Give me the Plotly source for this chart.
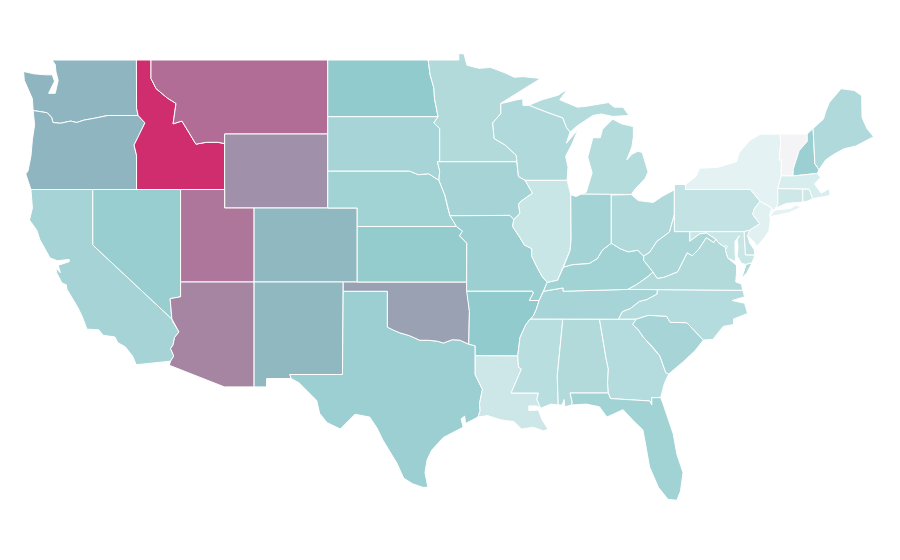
import plotly.graph_objects as go
from plotly.colors import sample_colorscale

# Approximate state outlines as (lon, lat); a None splits off a separate part.
WA = [(-117.03,49),(-122.76,49),(-122.55,48.75),(-122.5,48.35),(-122.35,47.9),(-122.55,47.2),(-123.0,47.2),(-122.6,47.85),(-122.75,48.2),(-123.2,48.2),(-124.0,48.25),(-124.7,48.38),(-124.65,47.9),(-124.3,47.3),(-124.1,46.9),(-124.05,46.27),(-123.4,46.2),(-123.1,46.15),(-122.8,45.9),(-122.7,45.62),(-122.2,45.58),(-121.5,45.7),(-121.1,45.62),(-120.6,45.75),(-119.9,45.85),(-119.3,45.93),(-118.98,46.0),(-116.92,46.0),(-117.03,46.4)]
OR = [(-124.05,46.27),(-123.4,46.2),(-123.1,46.15),(-122.8,45.9),(-122.7,45.62),(-122.2,45.58),(-121.5,45.7),(-121.1,45.62),(-120.6,45.75),(-119.9,45.85),(-119.3,45.93),(-118.98,46.0),(-116.92,46.0),(-116.46,45.6),(-116.85,44.95),(-117.2,44.4),(-117.03,43.85),(-117.03,42),(-124.2,42),(-124.55,42.84),(-124.4,43.0),(-124.2,43.8),(-124.1,44.7),(-123.95,45.5)]
CA = [(-124.2,42),(-120,42),(-120,39),(-114.63,35.0),(-114.57,34.85),(-114.15,34.3),(-114.45,34.0),(-114.55,33.6),(-114.72,33.4),(-114.5,33.0),(-114.72,32.72),(-117.05,32.53),(-117.3,33.0),(-117.8,33.5),(-118.3,33.72),(-118.5,34.03),(-119.3,34.12),(-119.6,34.42),(-120.4,34.45),(-120.7,35.1),(-121.0,35.6),(-121.75,36.6),(-121.8,36.85),(-122.1,36.95),(-122.45,37.5),(-122.5,37.75),(-122.2,37.5),(-122.35,37.9),(-121.6,38.1),(-121.6,38.22),(-122.4,38.15),(-122.9,38.3),(-123.6,39.3),(-123.8,39.8),(-124.3,40.35),(-124.1,41.0)]
NV = [(-120,42),(-114.04,42),(-114.04,36.2),(-114.75,36.1),(-114.63,35.0),(-120,39)]
ID = [(-117.04,49),(-116.05,49),(-116.05,48),(-115.7,47.45),(-114.95,46.95),(-114.35,46.65),(-114.55,45.55),(-113.95,45.7),(-113.45,45.05),(-113.0,44.45),(-112.3,44.55),(-111.5,44.55),(-111.05,44.48),(-111.05,42),(-117.03,42),(-117.03,43.85),(-117.2,44.4),(-116.85,44.95),(-116.46,45.6),(-116.92,46.0),(-117.03,46.4)]
MT = [(-116.05,49),(-104.05,49),(-104.05,45),(-111.05,45),(-111.05,44.48),(-111.5,44.55),(-112.3,44.55),(-113.0,44.45),(-113.45,45.05),(-113.95,45.7),(-114.55,45.55),(-114.35,46.65),(-114.95,46.95),(-115.7,47.45),(-116.05,48)]
WY = [(-111.05,45),(-104.05,45),(-104.05,41),(-111.05,41)]
UT = [(-114.04,42),(-111.05,42),(-111.05,41),(-109.05,41),(-109.05,37),(-114.04,37)]
CO = [(-109.05,41),(-102.05,41),(-102.05,37),(-109.05,37)]
AZ = [(-114.04,37),(-109.05,37),(-109.05,31.33),(-111.07,31.33),(-114.81,32.5),(-114.72,32.72),(-114.5,33.0),(-114.72,33.4),(-114.55,33.6),(-114.45,34.0),(-114.15,34.3),(-114.57,34.85),(-114.63,35.0),(-114.75,36.1),(-114.04,36.2)]
NM = [(-109.05,37),(-103.0,37),(-103.05,32),(-106.62,32),(-106.53,31.78),(-108.2,31.78),(-108.2,31.33),(-109.05,31.33)]
TX = [(-103.0,36.5),(-100,36.5),(-100,34.56),(-99.6,34.4),(-99.15,34.25),(-98.5,34.1),(-97.8,33.85),(-97.2,33.85),(-96.6,33.8),(-96.2,33.7),(-95.6,33.88),(-95.1,33.86),(-94.48,33.64),(-94.04,33.55),(-94.04,33.02),(-94.04,31.99),(-93.55,31.2),(-93.75,30.4),(-93.7,30.05),(-93.85,29.7),(-94.7,29.35),(-94.75,29.75),(-95.0,29.6),(-94.85,29.15),(-96.2,28.6),(-97.0,27.9),(-97.3,27.4),(-97.45,26.7),(-97.25,25.9),(-97.6,25.9),(-98.3,26.1),(-98.9,26.4),(-99.35,27.2),(-100.3,28.45),(-100.7,29.1),(-101.2,29.7),(-102.2,29.85),(-102.75,29.4),(-103.2,29.05),(-104.1,29.4),(-104.6,29.9),(-104.8,30.6),(-106.0,31.55),(-106.53,31.78),(-106.62,32),(-103.05,32)]
OK = [(-103,37),(-94.62,37),(-94.43,35.4),(-94.48,33.64),(-95.1,33.86),(-95.6,33.88),(-96.2,33.7),(-96.6,33.8),(-97.2,33.85),(-97.8,33.85),(-98.5,34.1),(-99.15,34.25),(-99.6,34.4),(-100,34.56),(-100,36.5),(-103,36.5)]
KS = [(-102.05,40),(-95.31,40),(-94.9,39.75),(-95.1,39.5),(-94.61,39.1),(-94.62,37),(-102.05,37)]
NE = [(-104.05,43),(-98.5,43),(-97.9,42.8),(-97.2,42.85),(-96.5,42.5),(-96.1,41.7),(-95.9,41.0),(-95.75,40.58),(-95.31,40),(-102.05,40),(-102.05,41),(-104.05,41)]
SD = [(-104.05,45.94),(-96.56,45.94),(-96.85,45.6),(-96.45,45.3),(-96.45,43.5),(-96.6,43.5),(-96.45,43.0),(-96.5,42.5),(-97.2,42.85),(-97.9,42.8),(-98.5,43),(-104.05,43)]
ND = [(-104.05,49),(-97.23,49),(-97.1,48.2),(-96.85,47.5),(-96.8,46.9),(-96.56,45.94),(-104.05,45.94)]
MN = [(-97.23,49),(-95.15,49),(-95.15,49.35),(-94.8,49.33),(-94.6,48.72),(-93.8,48.55),(-93.0,48.6),(-92.0,48.3),(-91.4,48.07),(-90.75,48.1),(-89.6,48.0),(-90.8,47.4),(-92.1,46.75),(-92.3,46.66),(-92.3,46.1),(-92.85,45.6),(-92.75,44.75),(-92.0,44.4),(-91.25,43.85),(-91.22,43.5),(-96.45,43.5),(-96.45,45.3),(-96.85,45.6),(-96.56,45.94),(-96.8,46.9),(-96.85,47.5),(-97.1,48.2)]
IA = [(-96.45,43.5),(-91.22,43.5),(-91.1,42.7),(-90.65,42.5),(-90.15,41.8),(-90.95,41.35),(-91.1,41.2),(-91.0,40.7),(-91.42,40.38),(-91.7,40.6),(-95.75,40.58),(-95.9,41.0),(-96.1,41.7),(-96.5,42.5),(-96.45,43.0),(-96.6,43.5)]
MO = [(-95.75,40.58),(-91.7,40.6),(-91.42,40.38),(-91.5,40.0),(-91.0,39.4),(-90.7,39.0),(-90.2,38.8),(-90.2,38.4),(-89.9,37.9),(-89.5,37.3),(-89.15,36.98),(-89.4,36.5),(-89.7,36.0),(-90.37,36.0),(-90.1,36.4),(-90.15,36.5),(-94.62,36.5),(-94.62,37),(-94.61,39.1),(-95.1,39.5),(-94.9,39.75),(-95.31,40)]
AR = [(-94.62,36.5),(-90.15,36.5),(-90.1,36.4),(-90.37,36.0),(-89.7,36.0),(-89.9,35.5),(-90.1,35.15),(-90.3,35.0),(-90.6,34.7),(-91.0,34.0),(-91.15,33.0),(-94.04,33.02),(-94.04,33.55),(-94.48,33.64),(-94.43,35.4)]
LA = [(-94.04,33.02),(-91.15,33.0),(-91.1,32.4),(-90.9,32.3),(-91.6,31.0),(-89.75,31.0),(-89.85,30.65),(-89.6,30.18),(-89.85,30.3),(-90.4,30.3),(-90.4,30.05),(-89.75,30.08),(-89.5,29.55),(-89.1,29.05),(-89.4,28.95),(-90.1,29.15),(-90.9,29.05),(-91.4,29.45),(-91.85,29.5),(-92.3,29.55),(-93.2,29.78),(-93.85,29.7),(-93.7,30.05),(-93.75,30.4),(-93.55,31.2),(-94.04,31.99)]
MS = [(-90.3,35.0),(-88.2,35),(-88.1,34.9),(-88.47,31.9),(-88.4,30.35),(-88.9,30.4),(-89.6,30.18),(-89.85,30.65),(-89.75,31.0),(-91.6,31.0),(-90.9,32.3),(-91.1,32.4),(-91.15,33.0),(-91.0,34.0),(-90.6,34.7)]
AL = [(-88.2,35),(-85.6,34.98),(-85.15,32.85),(-85.0,32.3),(-85.05,31.55),(-85.0,31.0),(-87.6,31.0),(-87.45,30.5),(-87.5,30.35),(-87.95,30.25),(-88.0,30.65),(-88.15,30.35),(-88.4,30.35),(-88.47,31.9),(-88.1,34.9)]
GA = [(-85.6,34.98),(-83.1,35),(-83.35,34.7),(-83.0,34.45),(-82.6,34.0),(-81.9,33.4),(-81.5,33.0),(-81.1,32.1),(-80.9,32.03),(-81.2,31.5),(-81.45,30.75),(-82.05,30.75),(-82.05,30.36),(-82.2,30.57),(-84.86,30.7),(-85.0,31.0),(-85.05,31.55),(-85.0,32.3),(-85.15,32.85)]
FL = [(-87.6,31.0),(-85.0,31.0),(-84.86,30.7),(-82.2,30.57),(-82.05,30.36),(-82.05,30.75),(-81.45,30.75),(-81.3,30.45),(-80.6,28.8),(-80.35,27.7),(-79.93,26.7),(-80.1,25.7),(-80.35,25.2),(-80.95,25.25),(-81.6,25.9),(-82.2,27.0),(-82.4,27.9),(-82.65,29.0),(-83.3,29.5),(-84.0,30.1),(-85.1,29.7),(-85.6,30.25),(-86.5,30.4),(-87.5,30.35),(-87.45,30.5)]
SC = [(-83.35,34.7),(-83.1,35),(-82.3,35.2),(-81.05,35.15),(-80.8,34.82),(-79.67,34.8),(-78.55,33.86),(-79.1,33.3),(-79.9,32.7),(-80.5,32.3),(-80.9,32.03),(-81.1,32.1),(-81.5,33.0),(-81.9,33.4),(-82.6,34.0),(-83.0,34.45)]
NC = [(-81.68,36.59),(-75.87,36.55),(-75.75,36.2),(-76.6,36.0),(-75.75,35.85),(-75.55,35.3),(-76.5,35.0),(-76.5,34.7),(-77.2,34.6),(-77.9,33.9),(-78.55,33.86),(-79.67,34.8),(-80.8,34.82),(-81.05,35.15),(-82.3,35.2),(-83.1,35),(-84.32,34.99),(-84.05,35.4),(-83.5,35.57),(-82.9,35.95),(-82.4,36.05),(-81.7,36.35)]
TN = [(-90.3,35.0),(-88.2,35),(-85.6,34.98),(-84.32,34.99),(-84.05,35.4),(-83.5,35.57),(-82.9,35.95),(-82.4,36.05),(-81.7,36.35),(-81.68,36.59),(-83.68,36.6),(-88.07,36.5),(-88.07,36.68),(-89.4,36.5),(-89.7,36.0),(-89.9,35.5),(-90.1,35.15)]
KY = [(-89.4,36.5),(-88.07,36.68),(-88.07,36.5),(-83.68,36.6),(-83.1,36.85),(-82.3,37.3),(-81.97,37.54),(-82.6,38.17),(-82.6,38.4),(-83.0,38.72),(-83.65,38.63),(-84.2,38.8),(-84.8,39.1),(-85.4,38.73),(-85.75,38.27),(-86.3,38.0),(-86.8,37.98),(-87.5,37.93),(-88.05,37.8),(-88.45,37.1),(-89.15,36.98)]
IL = [(-90.65,42.5),(-87.8,42.5),(-87.55,41.72),(-87.53,39.3),(-87.6,38.7),(-88.05,37.8),(-88.45,37.1),(-89.15,36.98),(-89.5,37.3),(-89.9,37.9),(-90.2,38.4),(-90.2,38.8),(-90.7,39.0),(-91.0,39.4),(-91.5,40.0),(-91.42,40.38),(-91.0,40.7),(-91.1,41.2),(-90.95,41.35),(-90.15,41.8)]
IN = [(-87.55,41.72),(-87.2,41.62),(-86.82,41.76),(-84.8,41.76),(-84.8,39.1),(-85.4,38.73),(-85.75,38.27),(-86.3,38.0),(-86.8,37.98),(-87.5,37.93),(-88.05,37.8),(-87.6,38.7),(-87.53,39.3)]
OH = [(-84.8,41.7),(-83.45,41.73),(-82.97,41.4),(-81.95,41.3),(-81.3,41.65),(-80.52,41.98),(-80.52,40.64),(-80.85,39.7),(-81.7,39.2),(-82.2,38.6),(-82.6,38.4),(-83.0,38.72),(-83.65,38.63),(-84.2,38.8),(-84.8,39.1)]
MI = [(-86.82,41.76),(-84.8,41.76),(-83.45,41.73),(-83.15,42.05),(-82.5,42.6),(-82.3,42.95),(-82.7,44.0),(-83.0,44.07),(-83.4,43.9),(-83.75,43.6),(-83.4,44.3),(-83.3,44.85),(-83.3,45.4),(-84.1,45.55),(-84.7,45.8),(-85.1,45.5),(-85.4,45.25),(-85.55,44.8),(-86.05,44.8),(-86.4,43.75),(-86.1,42.9),(-86.5,41.85),None,
      (-90.4,46.55),(-89.5,46.85),(-88.4,47.1),(-87.75,47.45),(-88.3,46.85),(-87.1,46.45),(-86.5,46.5),(-85.0,46.7),(-84.6,46.45),(-84.0,46.45),(-83.6,46.0),(-84.7,45.95),(-85.5,46.08),(-86.05,46.0),(-87.1,45.45),(-87.6,45.1),(-87.85,45.35),(-88.1,45.87),(-89.1,46.15)]
WI = [(-92.15,46.67),(-92.3,46.66),(-92.3,46.1),(-92.85,45.6),(-92.75,44.75),(-92.0,44.4),(-91.25,43.85),(-91.22,43.5),(-91.1,42.7),(-90.65,42.5),(-87.8,42.5),(-87.74,43.2),(-87.9,43.8),(-87.5,44.4),(-87.05,45.25),(-87.85,44.5),(-87.6,45.1),(-87.85,45.35),(-88.1,45.87),(-89.1,46.15),(-90.4,46.55),(-90.8,46.55),(-90.8,46.9),(-91.2,46.85)]
PA = [(-80.52,42.27),(-79.76,42.27),(-79.76,42.0),(-75.35,42.0),(-74.7,41.36),(-75.1,40.95),(-75.2,40.65),(-74.72,40.15),(-75.4,39.8),(-75.79,39.72),(-80.52,39.72)]
NY = [(-79.76,42.27),(-79.05,42.7),(-78.8,43.15),(-77.55,43.2),(-76.3,43.5),(-76.1,44.0),(-75.4,44.65),(-74.7,44.98),(-73.35,45.0),(-73.3,44.5),(-73.4,43.6),(-73.25,43.6),(-73.27,42.74),(-73.5,42.05),(-73.49,41.2),(-73.65,41.0),(-73.9,40.8),(-73.9,41.0),(-74.7,41.36),(-75.35,42.0),(-79.76,42.0),None,
      (-74.0,40.6),(-73.7,40.88),(-72.6,40.98),(-72.3,41.15),(-71.87,41.07),(-72.7,40.75),(-73.9,40.55)]
NJ = [(-74.7,41.36),(-73.9,41.0),(-74.05,40.65),(-74.0,40.4),(-74.1,39.75),(-74.4,39.4),(-74.9,38.93),(-75.2,39.25),(-75.55,39.5),(-75.4,39.8),(-74.72,40.15),(-75.2,40.65),(-75.1,40.95)]
DE = [(-75.79,39.72),(-75.4,39.8),(-75.55,39.5),(-75.4,39.1),(-75.1,38.75),(-75.05,38.45),(-75.7,38.46)]
MD = [(-79.48,39.72),(-75.79,39.72),(-75.7,38.46),(-75.05,38.45),(-75.25,38.03),(-75.65,37.95),(-75.95,38.0),(-76.25,38.4),(-76.2,38.9),(-76.25,39.3),(-76.1,39.5),(-76.4,39.2),(-76.4,38.6),(-76.35,38.1),(-76.9,38.3),(-77.05,38.7),(-77.03,38.85),(-77.5,39.1),(-77.72,39.32),(-78.35,39.65),(-78.8,39.6),(-79.48,39.2)]
DC = [(-77.12,38.93),(-77.03,38.99),(-76.91,38.89),(-77.03,38.8)]
VA = [(-83.68,36.6),(-81.68,36.59),(-75.87,36.55),(-75.97,36.9),(-76.35,37.0),(-76.3,37.5),(-76.3,37.9),(-76.9,38.3),(-77.05,38.7),(-77.03,38.85),(-77.5,39.1),(-77.72,39.32),(-77.83,39.13),(-78.35,39.4),(-78.87,38.77),(-79.3,38.42),(-79.65,38.58),(-80.3,37.55),(-81.25,37.25),(-81.68,37.2),(-81.97,37.54),(-82.3,37.3),(-83.1,36.85),None,
      (-75.25,38.03),(-75.65,37.95),(-75.95,37.2),(-75.6,37.5)]
WV = [(-80.52,40.64),(-80.52,39.72),(-79.48,39.72),(-79.48,39.2),(-78.8,39.6),(-78.35,39.65),(-77.72,39.32),(-77.83,39.13),(-78.35,39.4),(-78.87,38.77),(-79.3,38.42),(-79.65,38.58),(-80.3,37.55),(-81.25,37.25),(-81.68,37.2),(-81.97,37.54),(-82.6,38.17),(-82.6,38.4),(-82.2,38.6),(-81.7,39.2),(-80.85,39.7)]
VT = [(-73.35,45.0),(-71.5,45.0),(-71.5,44.6),(-72.05,44.1),(-72.45,43.1),(-72.46,42.73),(-73.27,42.74),(-73.25,43.6),(-73.4,43.6),(-73.3,44.5)]
NH = [(-71.5,45.0),(-71.1,45.3),(-70.98,43.4),(-70.7,43.07),(-70.82,42.87),(-72.46,42.73),(-72.45,43.1),(-72.05,44.1),(-71.5,44.6)]
ME = [(-71.1,45.3),(-70.4,45.8),(-70.25,46.2),(-70.0,46.7),(-69.2,47.45),(-68.3,47.35),(-67.8,47.07),(-67.78,45.9),(-67.45,45.3),(-67.0,44.85),(-68.2,44.35),(-69.0,44.2),(-69.7,43.9),(-70.25,43.6),(-70.7,43.07),(-70.98,43.4)]
MA = [(-73.5,42.05),(-73.27,42.74),(-72.46,42.73),(-70.82,42.87),(-70.6,42.65),(-71.0,42.3),(-70.55,41.8),(-70.0,42.05),(-69.95,41.68),(-70.6,41.6),(-71.13,41.5),(-71.38,42.02),(-71.8,42.02)]
CT = [(-73.5,42.05),(-71.8,42.02),(-71.8,41.32),(-72.9,41.25),(-73.65,41.0),(-73.49,41.2)]
RI = [(-71.8,42.02),(-71.38,42.02),(-71.13,41.5),(-71.5,41.37),(-71.8,41.32)]

STATE_CODES = ["WA","OR","CA","NV","ID","MT","WY","UT","CO","AZ","NM","TX","OK","KS","NE","SD","ND","MN","IA","MO","AR","LA","MS","AL","GA","FL","SC","NC","TN","KY","IL","IN","OH","MI","WI","PA","NY","NJ","DE","MD","DC","VA","WV","VT","NH","ME","MA","CT","RI"]
OUTLINES = [WA,OR,CA,NV,ID,MT,WY,UT,CO,AZ,NM,TX,OK,KS,NE,SD,ND,MN,IA,MO,AR,LA,MS,AL,GA,FL,SC,NC,TN,KY,IL,IN,OH,MI,WI,PA,NY,NJ,DE,MD,DC,VA,WV,VT,NH,ME,MA,CT,RI]
VALUES = [35,35,20.4,23.6,99,69,53,65,34,58,34,22.9,45,24.5,21.3,20,25,17.6,20.4,22.9,25,11.2,15.8,17.6,17,21.3,20,17,20,21.5,12,21,18.2,16.7,18,13.5,5.7,6.5,14,12,14,17.6,19,0,23,18,8.5,11,11]

COLOR_SCALE = [[0,"#f4f4f6"],[0.02,"#f4fafa"],[0.25,"#92cbcd"],[0.35,"#8fb6c0"],[1,"#d02b6d"]]

fig = go.Figure()
for code, outline, value in zip(STATE_CODES, OUTLINES, VALUES):
    closed_x, closed_y, part = [], [], []
    for p in outline + [None]:
        if p is None:
            closed_x += [q[0] for q in part] + [part[0][0], None]
            closed_y += [q[1] for q in part] + [part[0][1], None]
            part = []
        else:
            part.append(p)
    fig.add_trace(go.Scatter(x=closed_x[:-1], y=closed_y[:-1], mode="lines", fill="toself",
        fillcolor=sample_colorscale(COLOR_SCALE, value/100)[0],
        line=dict(color="white", width=1), name=code, hoverinfo="name+text", text=str(value), showlegend=False))

fig.update_xaxes(visible=False, range=[-126.30,-65.20], fixedrange=True)
fig.update_yaxes(visible=False, range=[21.973,52.243], fixedrange=True)
fig.update_layout(width=900, height=560, margin=dict(l=0,r=0,t=0,b=0), paper_bgcolor="white", plot_bgcolor="white")
fig.write_html("out.html", config={"displayModeBar": False}, post_script="document.body.style.margin='0';")
